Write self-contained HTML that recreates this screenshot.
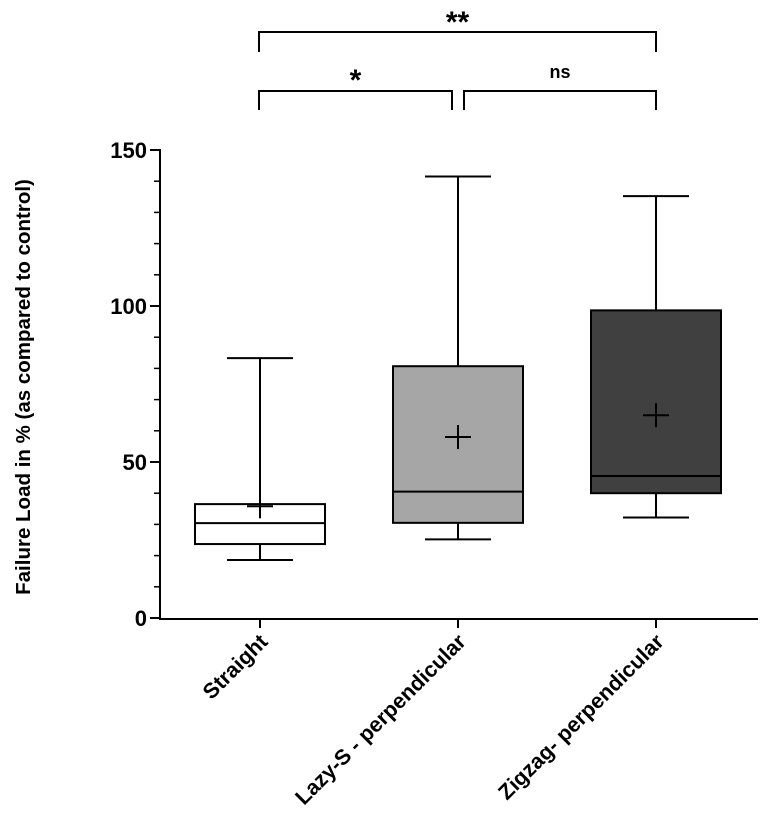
<!DOCTYPE html>
<html><head><meta charset="utf-8"><style>
body{margin:0;background:#fff}
svg text{font-family:"Liberation Sans",Arial,sans-serif;font-weight:bold;fill:#000}
</style></head><body>
<svg id="chart" width="762" height="827" viewBox="0 0 762 827" xmlns="http://www.w3.org/2000/svg">
<g id="axes"></g>
<g id="boxes"></g>
<g id="sig"></g>
<text transform="translate(30,387) rotate(-90)" text-anchor="middle" font-size="20.5">Failure Load in % (as compared to control)</text>
</svg>
<script>
const categories = ["Straight", "Lazy-S - perpendicular", "Zigzag- perpendicular"];
const whiskerMin = [18.6, 25.2, 32.2];
const q1 = [23.7, 30.5, 40.0];
const median = [30.4, 40.5, 45.5];
const q3 = [36.5, 80.7, 98.6];
const whiskerMax = [83.3, 141.5, 135.2];
const means = [35.8, 58.0, 65.0];
const fills = ["#ffffff", "#a6a6a6", "#404040"];
const yTicks = [0, 50, 100, 150];

const NS = "http://www.w3.org/2000/svg";
const y = v => 618 - v * 3.12;
const x = i => 260 + i * 198;
function mk(parent, tag, attrs) {
  const el = document.createElementNS(NS, tag);
  for (const k in attrs) el.setAttribute(k, attrs[k]);
  parent.appendChild(el);
  return el;
}
const axes = document.getElementById('axes');
let el = mk(axes, 'line', {x1:160, y1:149, x2:160, y2:619, stroke:'#000', 'stroke-width':2});


el = mk(axes, 'line', {x1:159, y1:619, x2:758, y2:619, stroke:'#000', 'stroke-width':2});


for (let v = 0; v <= 150; v += 10) {
  const major = v % 50 === 0;
  el = mk(axes, 'line', {x1: major ? 150 : 154, y1: y(v), x2: 160, y2: y(v), stroke:'#000', 'stroke-width': major ? 2 : 1.5});
  
  
}
yTicks.forEach(v => {
  const t = mk(axes, 'text', {x:147, y:y(v) + 8, 'text-anchor':'end', 'font-size':22});
  t.textContent = v;
  
  
});
categories.forEach((c, i) => {
  el = mk(axes, 'line', {x1:x(i), y1:619, x2:x(i), y2:628, stroke:'#000', 'stroke-width':2});
  
  
  const t = mk(axes, 'text', {transform:`translate(${x(i) + 9},${643}) rotate(-45)`, 'text-anchor':'end', 'font-size':21.5});
  t.textContent = c;
  
  
});
const boxes = document.getElementById('boxes');
categories.forEach((c, i) => {
  const g = mk(boxes, 'g', {});
  
  
  const cx = x(i), hw = 65, cw = 33;
  const s = {stroke:'#000', 'stroke-width':2, fill:'none'};
  mk(g, 'line', Object.assign({x1:cx, y1:y(whiskerMax[i]), x2:cx, y2:y(whiskerMin[i])}, s));
  mk(g, 'line', Object.assign({x1:cx-cw, y1:y(whiskerMax[i]), x2:cx+cw, y2:y(whiskerMax[i])}, s));
  mk(g, 'line', Object.assign({x1:cx-cw, y1:y(whiskerMin[i]), x2:cx+cw, y2:y(whiskerMin[i])}, s));
  mk(g, 'rect', {x:cx-hw, y:y(q3[i]), width:2*hw, height:y(q1[i]) - y(q3[i]), fill:fills[i], stroke:'#000', 'stroke-width':2});
  mk(g, 'line', Object.assign({x1:cx-hw, y1:y(median[i]), x2:cx+hw, y2:y(median[i])}, s));
  mk(g, 'line', Object.assign({x1:cx-13, y1:y(means[i]), x2:cx+13, y2:y(means[i])}, s));
  mk(g, 'line', Object.assign({x1:cx, y1:y(means[i])-12, x2:cx, y2:y(means[i])+12}, s));
});
const sig = document.getElementById('sig');
const br = [[0,2,32,52,'**',32,30],[0,1,91,110,'*',90,30],[1,2,91,110,'ns',78,18]];
br.forEach((b, k) => {
  const x1 = b[0] === 1 && b[1] === 2 ? 464 : x(b[0]) - 1;
  const x2 = b[0] === 0 && b[1] === 1 ? 452 : x(b[1]);
  el = mk(sig, 'path', {d:`M${x1},${b[3]} V${b[2]} H${x2} V${b[3]}`, fill:'none', stroke:'#000', 'stroke-width':2});
  
  
  const t = mk(sig, 'text', {x:(x1+x2)/2, y:b[5], 'text-anchor':'middle', 'font-size':b[6]});
  if (b[4] === 'ns') t.setAttribute('font-weight', 'normal');
  t.textContent = b[4];
  
  
});
</script>
</body></html>
